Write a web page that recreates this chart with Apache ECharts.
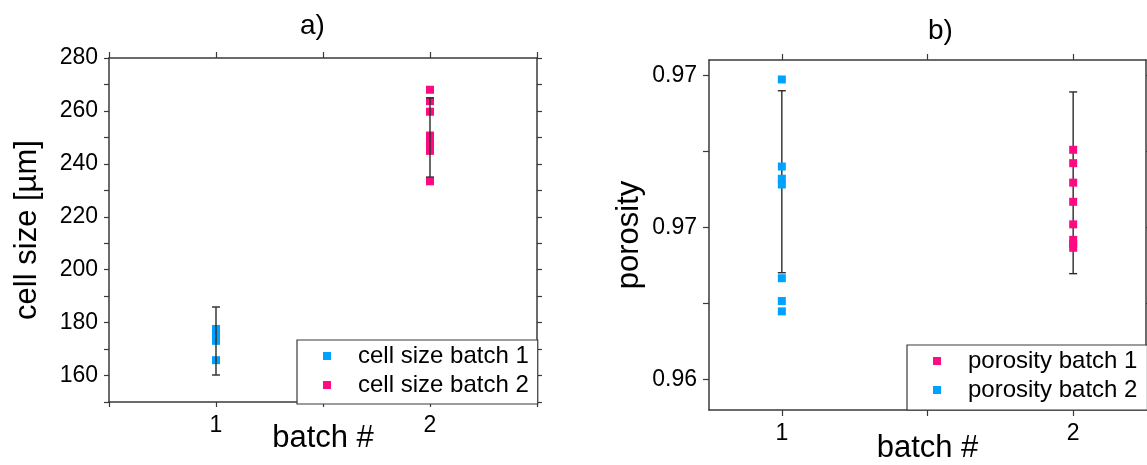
<!DOCTYPE html>
<html>
<head>
<meta charset="utf-8">
<script src="https://cdn.jsdelivr.net/npm/echarts@6/dist/echarts.min.js"></script>
<style>
html,body{margin:0;padding:0;background:#fff;}
#chart{width:1147px;height:465px;}
</style>
</head>
<body>
<div id="chart"></div>
<script>
// ---- data ----
const batchLabelsA = [1, 2];
const cellSizeBatch1 = [177.6, 176.2, 174.6, 173.1, 165.8];          // at batch 1
const cellSizeBatch2 = [268.0, 263.7, 259.7, 250.7, 248.6, 246.6, 244.9, 233.4]; // at batch 2
const cellSizeErrLow = [160.2, 235.0];
const cellSizeErrHigh = [185.9, 264.9];

const porosityBatch2 = [0.97486, 0.97160, 0.97141, 0.97200, 0.96833, 0.96758, 0.96724]; // blue, at batch 1
const porosityBatch1 = [0.97255, 0.97211, 0.97147, 0.97084, 0.97010, 0.96959, 0.96946, 0.96933]; // pink, at batch 2
const porosityErrLow = [0.96851, 0.96848];
const porosityErrHigh = [0.97449, 0.97445];

const yTicksA = [150,160,170,180,190,200,210,220,230,240,250,260,270,280];
const yLabelsA = [160,180,200,220,240,260,280];
const yTicksB = [0.965, 0.9675, 0.970, 0.9725, 0.975];
const yLabelValsB = [0.965, 0.970, 0.975];
const yLabelTextB = ['0.96', '0.97', '0.97'];
const xTicksB = [1, 1.5, 2];
const xLabelsB = [1, 2];

const BLUE = '#00a2ff', PINK = '#ff0a80', AX = '#3a3a3a';
const FONT = '"Liberation Sans", Arial, sans-serif';

const chart = echarts.init(document.getElementById('chart'), null, {renderer: 'canvas'});

function errRender(params, api) {
  const x = api.value(0), lo = api.value(1), hi = api.value(2);
  const a = api.coord([x, lo]), b = api.coord([x, hi]);
  const hw = 4;
  const st = {stroke: '#2a2a2a', lineWidth: 1.4};
  return {type: 'group', children: [
    {type: 'line', shape: {x1: a[0], y1: a[1], x2: b[0], y2: b[1]}, style: st},
    {type: 'line', shape: {x1: a[0]-hw, y1: a[1], x2: a[0]+hw, y2: a[1]}, style: st},
    {type: 'line', shape: {x1: b[0]-hw, y1: b[1], x2: b[0]+hw, y2: b[1]}, style: st}
  ]};
}

const lineStyle = {show: true, onZero: false, lineStyle: {color: AX, width: 1.5}};
const tickStyle = {lineStyle: {color: AX, width: 1.2}, length: 5};
const labelFont = {fontSize: 23, color: '#000', fontFamily: FONT};
const nameFont = {fontSize: 31, color: '#000', fontFamily: FONT};

const option = {
  animation: false,
  backgroundColor: '#fff',
  title: [
    {text: 'a)', left: 295, top: 7, textStyle: {fontSize: 28, fontWeight: 'normal', color: '#000', fontFamily: FONT}},
    {text: 'b)', left: 923, top: 12, textStyle: {fontSize: 28, fontWeight: 'normal', color: '#000', fontFamily: FONT}}
  ],
  grid: [
    {left: 109, top: 58, right: 610, bottom: 63, containLabel: false, outerBoundsMode: 'none'},
    {left: 709, top: 60, right: 1, bottom: 55, containLabel: false, outerBoundsMode: 'none'}
  ],
  xAxis: [
    {gridIndex: 0, type: 'value', position: 'bottom', min: 0.5, max: 2.5, interval: 0.5,
     axisLine: lineStyle, axisTick: tickStyle, splitLine: {show: false},
     axisLabel: Object.assign({margin: 12, customValues: batchLabelsA, formatter: v => String(v)}, labelFont),
     name: 'batch #', nameLocation: 'middle', nameGap: 21, nameMoveOverlap: false, nameTextStyle: nameFont},
    {gridIndex: 0, type: 'value', position: 'top', min: 0.5, max: 2.5, interval: 0.5,
     axisLine: lineStyle, axisTick: Object.assign({}, tickStyle, {length: 6}), splitLine: {show: false},
     axisLabel: {show: false}},
    {gridIndex: 1, type: 'value', position: 'bottom', min: 0.75, max: 2.25,
     axisLine: lineStyle, axisTick: Object.assign({customValues: xTicksB}, tickStyle, {length: 6}), splitLine: {show: false},
     axisLabel: Object.assign({margin: 12, customValues: xLabelsB, formatter: v => String(v)}, labelFont),
     name: 'batch #', nameLocation: 'middle', nameGap: 23, nameMoveOverlap: false, nameTextStyle: nameFont},
    {gridIndex: 1, type: 'value', position: 'top', min: 0.75, max: 2.25,
     axisLine: lineStyle, axisTick: Object.assign({customValues: xTicksB}, tickStyle, {length: 6}), splitLine: {show: false},
     axisLabel: {show: false}}
  ],
  yAxis: [
    {gridIndex: 0, type: 'value', position: 'left', min: 150, max: 280,
     axisLine: lineStyle, axisTick: Object.assign({customValues: yTicksA}, tickStyle), splitLine: {show: false},
     axisLabel: Object.assign({margin: 11, customValues: yLabelsA, formatter: v => String(v)}, labelFont),
     name: 'cell size [µm]', nameLocation: 'middle', nameGap: 66, nameTextStyle: nameFont},
    {gridIndex: 0, type: 'value', position: 'right', min: 150, max: 280,
     axisLine: lineStyle, axisTick: Object.assign({customValues: yTicksA}, tickStyle), splitLine: {show: false},
     axisLabel: {show: false}},
    {gridIndex: 1, type: 'value', position: 'left', min: 0.964, max: 0.9755,
     axisLine: lineStyle, axisTick: Object.assign({customValues: yTicksB}, tickStyle, {length: 6}), splitLine: {show: false},
     axisLabel: Object.assign({margin: 12, customValues: yLabelValsB,
       formatter: v => { const i = yLabelValsB.findIndex(t => Math.abs(t - v) < 1e-6); return i >= 0 ? yLabelTextB[i] : ''; }}, labelFont),
     name: 'porosity', nameLocation: 'middle', nameGap: 64, nameTextStyle: nameFont},
    {gridIndex: 1, type: 'value', position: 'right', min: 0.964, max: 0.9755,
     axisLine: lineStyle, axisTick: Object.assign({customValues: yTicksB}, tickStyle), splitLine: {show: false},
     axisLabel: {show: false}}
  ],
  legend: [
    {data: ['cell size batch 1', 'cell size batch 2'], orient: 'vertical', left: 297, top: 340,
     padding: [4, 9, 7, 26], itemGap: 5, itemWidth: 8, itemHeight: 8, icon: 'rect',
     borderColor: AX, borderWidth: 1.2, backgroundColor: '#fff',
     textStyle: {fontSize: 24, color: '#000', fontFamily: FONT, padding: [0, 0, 0, 22]}},
    {data: ['porosity batch 1', 'porosity batch 2'], orient: 'vertical', left: 907, top: 345,
     padding: [4, 10, 8, 26], itemGap: 5, itemWidth: 8, itemHeight: 8, icon: 'rect',
     borderColor: AX, borderWidth: 1.2, backgroundColor: '#fff',
     textStyle: {fontSize: 24, color: '#000', fontFamily: FONT, padding: [0, 0, 0, 22]}}
  ],
  series: [
    {name: 'cell size batch 1', type: 'scatter', xAxisIndex: 0, yAxisIndex: 0, symbol: 'rect', symbolSize: 8,
     itemStyle: {color: BLUE, opacity: 1}, data: cellSizeBatch1.map(v => [batchLabelsA[0], v]), z: 2},
    {name: 'cell size batch 2', type: 'scatter', xAxisIndex: 0, yAxisIndex: 0, symbol: 'rect', symbolSize: 8,
     itemStyle: {color: PINK, opacity: 1}, data: cellSizeBatch2.map(v => [batchLabelsA[1], v]), z: 2},
    {type: 'custom', xAxisIndex: 0, yAxisIndex: 0, renderItem: errRender, z: 3,
     encode: {x: 0, y: [1, 2]},
     data: batchLabelsA.map((b, i) => [b, cellSizeErrLow[i], cellSizeErrHigh[i]])},
    {type: 'custom', xAxisIndex: 2, yAxisIndex: 2, renderItem: errRender, z: 1,
     encode: {x: 0, y: [1, 2]},
     data: batchLabelsA.map((b, i) => [b, porosityErrLow[i], porosityErrHigh[i]])},
    {name: 'porosity batch 1', type: 'scatter', xAxisIndex: 2, yAxisIndex: 2, symbol: 'rect', symbolSize: 8,
     itemStyle: {color: PINK, opacity: 1}, data: porosityBatch1.map(v => [batchLabelsA[1], v]), z: 2},
    {name: 'porosity batch 2', type: 'scatter', xAxisIndex: 2, yAxisIndex: 2, symbol: 'rect', symbolSize: 8,
     itemStyle: {color: BLUE, opacity: 1}, data: porosityBatch2.map(v => [batchLabelsA[0], v]), z: 2}
  ]
};
chart.setOption(option);
</script>
</body>
</html>
